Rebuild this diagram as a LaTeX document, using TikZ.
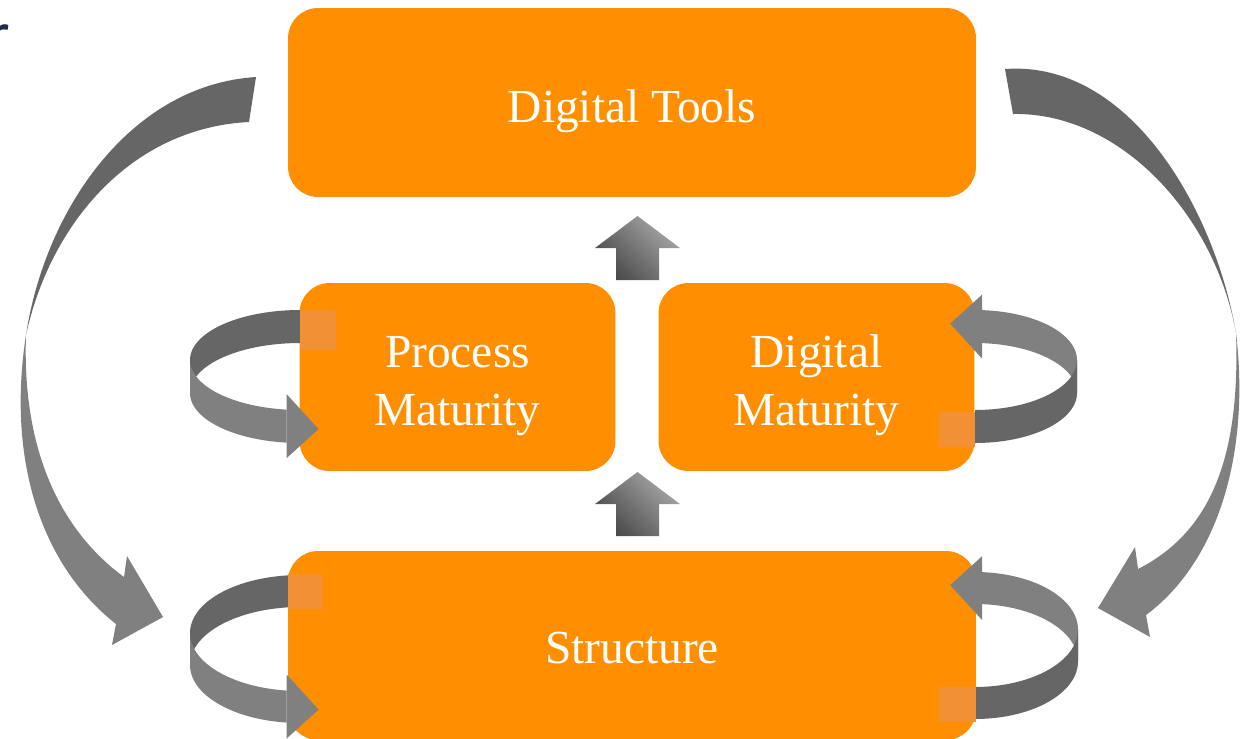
\documentclass[tikz,border=0pt]{standalone}
\usepackage{fontspec}
\setmainfont{Liberation Serif}
\newfontfamily\cutfont{Lato}
\usepackage{xcolor}
\usetikzlibrary{positioning}

\definecolor{boxorange}{RGB}{255,143,0}
\definecolor{tailsq}{RGB}{242,144,52}
\definecolor{ribdarkc}{RGB}{102,102,102}
\definecolor{riblightc}{RGB}{128,128,128}
\definecolor{arrdark}{RGB}{72,72,72}
\definecolor{arrlight}{RGB}{168,168,168}
\definecolor{navy}{RGB}{31,45,77}

\begin{document}
\begin{tikzpicture}[
    x=0.02cm, y=-0.02cm,
    box/.style={rectangle, rounded corners=0.6cm, fill=boxorange, inner sep=0pt},
    wide/.style={box, minimum width=13.76cm, minimum height=3.78cm},
    half/.style={box, minimum width=6.32cm, minimum height=3.76cm},
    lbl/.style={text=white, inner sep=0pt, font=\fontsize{27}{33}\selectfont, align=center},
    ribdark/.style={fill=ribdarkc},
    riblight/.style={fill=riblightc},
    uparrow/.style={top color=arrlight, bottom color=arrdark, shading angle=-45}
]
    \clip (0,0) rectangle (1240,738);
    \fill[white] (0,0) rectangle (1240,738);

    \node[anchor=base east, inner sep=0pt, text=navy, font=\cutfont\fontsize{34}{40}\selectfont] (cutr) at (10,55) {r};

    % boxes
    \node[wide] (tools) at (632,102.5) {};
    \node[half] (procm) at (457.5,377) {};
    \node[half] (digm) at (816.5,377) {};
    \node[wide] (struct) at (632,645.5) {};

    % rings on the left side: cx/cy/rx/ry/h/tail/head
    \foreach \cx/\cy/\rx/\ry/\h/\ta/\ha in {300/360/110/50/33/90/263, 300/633/110/58/32/96/263}{
        \fill[ribdark] plot[domain=\ta:180, samples=40] ({\cx+\rx*cos(\x)},{\cy-\ry*sin(\x)})
            -- plot[domain=180:\ta, samples=40] ({\cx+\rx*cos(\x)},{\cy+\h-\ry*sin(\x)}) -- cycle;
        \fill[riblight] plot[domain=180:\ha, samples=40] ({\cx+\rx*cos(\x)},{\cy-\ry*sin(\x)})
            -- plot[domain=\ha:180, samples=40] ({\cx+\rx*cos(\x)},{\cy+\h-\ry*sin(\x)}) -- cycle;
        \pgfmathsetmacro\xe{\cx+\rx*cos(\ha)}
        \pgfmathsetmacro\ym{\cy+\h/2-\ry*sin(\ha)}
        \fill[riblight] (\xe,\ym-32) -- (\xe+32,\ym+3) -- (\xe,\ym+32) -- cycle;
    }

    % rings on the right side
    \foreach \cx/\cy/\rx/\ry/\h/\ha in {975/360/102/50/33/86, 975/629.5/103/57.5/32/86}{
        \fill[riblight] plot[domain=\ha:0, samples=40] ({\cx+\rx*cos(\x)},{\cy-\ry*sin(\x)})
            -- plot[domain=0:\ha, samples=40] ({\cx+\rx*cos(\x)},{\cy+\h-\ry*sin(\x)}) -- cycle;
        \pgfmathsetmacro\xe{\cx+\rx*cos(\ha)}
        \pgfmathsetmacro\ym{\cy+\h/2-\ry*sin(\ha)}
        \fill[riblight] (\xe,\ym-32) -- (\xe-32,\ym-3) -- (\xe,\ym+32) -- cycle;
        \fill[ribdark] plot[domain=0:-90, samples=40] ({\cx+\rx*cos(\x)},{\cy-\ry*sin(\x)})
            -- plot[domain=-90:0, samples=40] ({\cx+\rx*cos(\x)},{\cy+\h-\ry*sin(\x)}) -- cycle;
    }

    % big arc, left
    \fill[ribdark] (256,77) .. controls (130,85) and (45,210) .. (26,335)
        .. controls (50,225) and (130,128) .. (249,122) -- cycle;
    \fill[riblight] (26,335) .. controls (8,450) and (35,560) .. (116,624)
        -- (112,645) -- (163,617) -- (127,556) -- (124,577)
        .. controls (60,530) and (22,450) .. (26,335) -- cycle;

    % big arc, right
    \fill[ribdark] (1005,69) .. controls (1130,60) and (1215,210) .. (1236,333)
        .. controls (1215,215) and (1120,112) .. (1013,114) -- cycle;
    \fill[riblight] (1236,333) .. controls (1250,450) and (1220,560) .. (1146,615)
        -- (1150,637) -- (1098,608) -- (1135,547) -- (1138,569)
        .. controls (1215,530) and (1240,450) .. (1236,333) -- cycle;

    % up arrows
    \foreach \yb in {280,536}{
        \shade[uparrow] (616,\yb) -- (616,\yb-32) -- (595,\yb-32) -- (637.5,\yb-64)
            -- (680,\yb-32) -- (659,\yb-32) -- (659,\yb) -- cycle;
    }

    % tail ends over the boxes
    \fill[tailsq] (300,310) rectangle (336,350);
    \fill[tailsq] (939,412) rectangle (975,447);
    \fill[tailsq] (288,574) rectangle (323,609);
    \fill[tailsq] (939,687) rectangle (976,722);

    % labels
    \node[lbl, anchor=base] (toolstxt) at (632,122) {Digital Tools};
    \node[lbl] (procmtxt) at (457.5,386.5) {Process\\Maturity};
    \node[lbl] (digmtxt) at (816.5,385.5) {Digital\\Maturity};
    \node[lbl, anchor=base] (structtxt) at (632,663) {Structure};
\end{tikzpicture}
\end{document}
